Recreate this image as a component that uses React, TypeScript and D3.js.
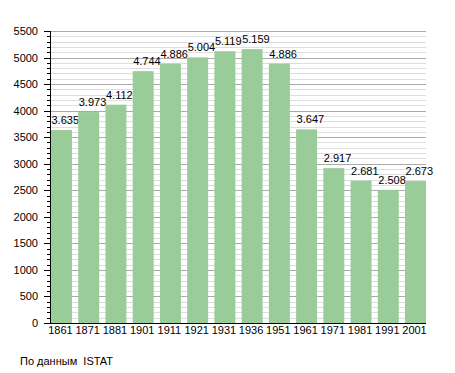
import React from 'react'
import * as d3 from 'd3'

const years = ['1861', '1871', '1881', '1901', '1911', '1921', '1931', '1936', '1951', '1961', '1971', '1981', '1991', '2001']
const population = [3635, 3973, 4112, 4744, 4886, 5004, 5119, 5159, 4886, 3647, 2917, 2681, 2508, 2673]
const majorTicks = d3.range(0, 5501, 500)
const minorTicks = d3.range(0, 5501, 100).filter((v) => v % 500 !== 0)

const fmt = (v: number) => d3.format(',')(v).replace(',', '.')

export default function App() {
  const left = 50
  const right = 426
  const top = 31
  const bottom = 323

  const x = d3.scaleBand<string>()
    .domain(years)
    .range([51, right])
    .paddingInner(0.23)
    .paddingOuter(0)
  const y = d3.scaleLinear().domain([0, 5500]).range([bottom, top])

  const font = 'Liberation Sans, Arial, sans-serif'

  return (
    <svg width={455} height={373} style={{ position: 'absolute', left: 0, top: 0 }} fontFamily={font}>
      <rect width={455} height={373} fill="#fff" />
      {/* minor grid */}
      {minorTicks.map((t) => (
        <g key={'m' + t}>
          <line x1={left} x2={right} y1={Math.round(y(t)) + 0.5} y2={Math.round(y(t)) + 0.5} stroke="#dedede" />
          <line x1={left - 3} x2={left} y1={Math.round(y(t)) + 0.5} y2={Math.round(y(t)) + 0.5} stroke="#000" />
        </g>
      ))}
      {/* major grid */}
      {majorTicks.map((t) => (
        <g key={'M' + t}>
          {t > 0 && <line x1={left} x2={right} y1={Math.round(y(t)) + 0.5} y2={Math.round(y(t)) + 0.5} stroke="#aaa" />}
          <line x1={left - 6} x2={left} y1={Math.round(y(t)) + 0.5} y2={Math.round(y(t)) + 0.5} stroke="#000" />
          <text x={38} y={y(t) + 4} textAnchor="end" fontSize={11} fill="#000">{t}</text>
        </g>
      ))}
      {/* bars */}
      {years.map((yr, i) => (
        <g key={yr}>
          <rect x={x(yr)} y={y(population[i])} width={x.bandwidth()} height={bottom - y(population[i])} fill="#99cc99" />
          <text x={(x(yr) ?? 0) + 0.5} y={y(population[i]) - 6} fontSize={11} fill="#000">{fmt(population[i])}</text>
          <text x={(x(yr) ?? 0) + x.bandwidth() / 2 - 1} y={334} textAnchor="middle" fontSize={11} fill="#000">{yr}</text>
        </g>
      ))}
      {/* axes */}
      <line x1={left + 0.5} x2={left + 0.5} y1={top} y2={bottom + 1} stroke="#000" />
      <line x1={left} x2={right} y1={bottom + 0.5} y2={bottom + 0.5} stroke="#000" />
      <text x={20} y={365} fontSize={11} fill="#000">{'По данным\u00a0 ISTAT'}</text>
    </svg>
  )
}
